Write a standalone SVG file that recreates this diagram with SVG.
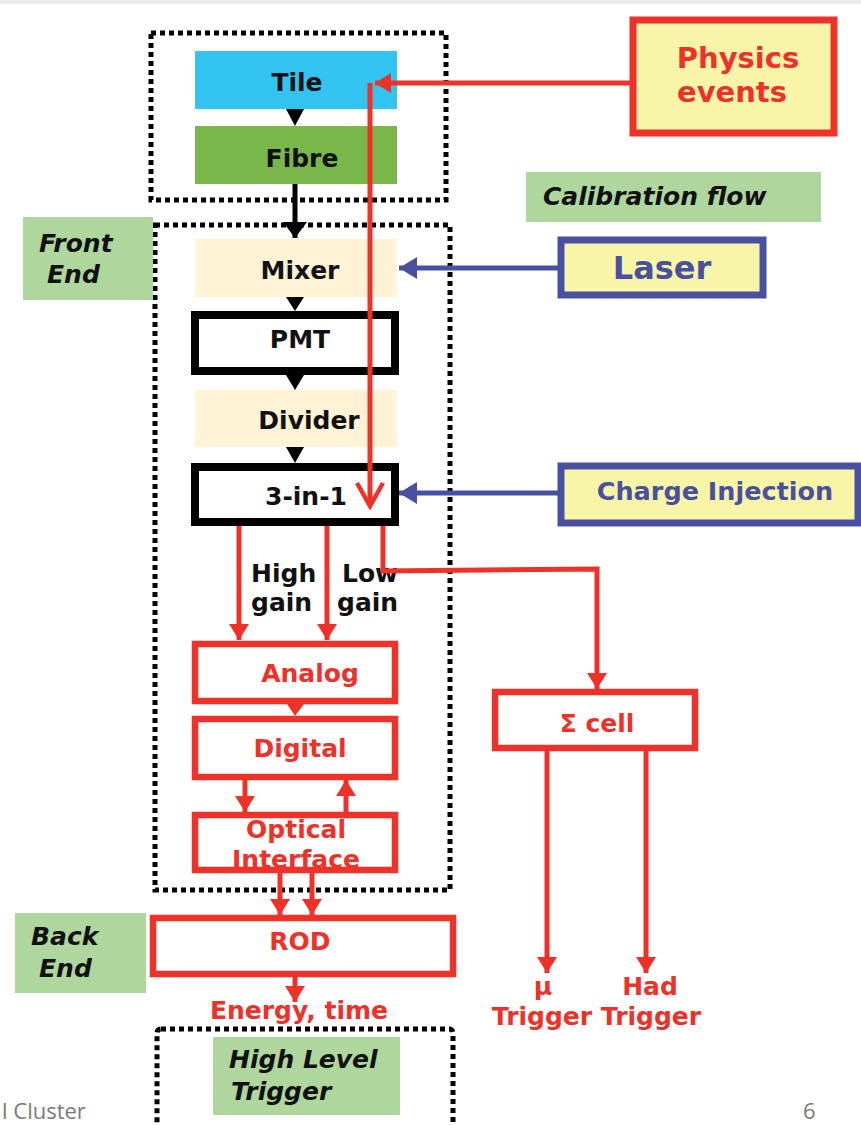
<svg xmlns="http://www.w3.org/2000/svg" width="861" height="1125" viewBox="0 0 861 1125">
<defs>
<style>
.t{font-family:"DejaVu Sans",Verdana,sans-serif;font-weight:bold;font-size:25px;fill:#111;}
.c{text-anchor:middle;}
.i{font-style:italic;}
.red{fill:#ee3129;}
.blue{fill:#4a50a0;}
.dot{fill:none;stroke:#000;stroke-width:5;stroke-dasharray:5 4;}
.lbl{fill:#aed69d;}
.rbox{fill:#fff;stroke:#ee3129;stroke-width:6.5;}
.kbox{fill:#fff;stroke:#000;stroke-width:8;}
.ybox{fill:#f9f5a8;}
.rl{stroke:#ee3129;stroke-width:5;fill:none;}
.bl{stroke:#4a50a0;stroke-width:5;fill:none;}
.kl{stroke:#000;stroke-width:5;fill:none;}
.rt{fill:#ee3129;}
.kt{fill:#000;}
.foot{font-family:"Open Sans","Liberation Sans",sans-serif;font-size:22px;fill:#7a7a7a;}
</style>
<marker id="aR" markerUnits="userSpaceOnUse" markerWidth="18" markerHeight="20" refX="16" refY="10" orient="auto"><path d="M0,0 L16,10 L0,20 z" fill="#ee3129"/></marker>
<marker id="aB" markerUnits="userSpaceOnUse" markerWidth="20" markerHeight="22" refX="18" refY="11" orient="auto"><path d="M0,0 L18,11 L0,22 z" fill="#4a50a0"/></marker>
<marker id="aK" markerUnits="userSpaceOnUse" markerWidth="18" markerHeight="24" refX="16" refY="12" orient="auto"><path d="M0,0 L16,12 L0,24 z" fill="#000"/></marker>
<marker id="aV" markerUnits="userSpaceOnUse" markerWidth="30" markerHeight="34" refX="25" refY="15" orient="auto"><path d="M2,2 L25,15 L2,28" fill="none" stroke="#ee3129" stroke-width="4.5"/></marker>
</defs>
<rect x="0" y="0" width="861" height="4" fill="#ececec"/>

<g id="detector-box"><rect class="dot" x="151" y="33" width="295" height="167"/></g>
<g id="frontend-box"><rect class="dot" x="155" y="225" width="295" height="665"/></g>
<g id="hlt-box"><rect class="dot" x="157" y="1029" width="296" height="120" rx="4"/></g>

<g id="tile"><rect x="195" y="51" width="202" height="58" fill="#33c3f0"/><text class="t c" x="297" y="91">Tile</text></g>
<g id="fibre"><rect x="195" y="126" width="202" height="58" fill="#79b74a"/><text class="t c" x="302" y="167">Fibre</text></g>

<g id="frontend-label"><rect class="lbl" x="23" y="217" width="130" height="83"/><text class="t i" x="39" y="252">Front</text><text class="t i" x="47" y="283">End</text></g>

<g id="mixer"><rect x="195" y="239" width="202" height="58" fill="#fff2d5"/><text class="t c" x="300" y="279">Mixer</text></g>
<g id="pmt"><rect class="kbox" x="195" y="315" width="200" height="56"/><text class="t c" x="300" y="348">PMT</text></g>
<g id="divider"><rect x="195" y="390" width="202" height="57" fill="#fff2d5"/><text class="t c" x="309" y="429">Divider</text></g>
<g id="three-in-one"><rect class="kbox" x="195" y="467" width="200" height="55"/><text class="t c" x="306" y="505">3-in-1</text></g>

<g id="physics-events"><rect class="ybox" x="633" y="20" width="201" height="113" stroke="#ee3129" stroke-width="7"/><text class="t c red" x="738" y="68" style="font-size:29px">Physics</text><text class="t c red" x="732" y="102" style="font-size:29px">events</text></g>
<g id="calibration-flow"><rect class="lbl" x="526" y="172" width="295" height="50"/><text class="t i" x="543" y="205">Calibration flow</text></g>
<g id="laser"><rect class="ybox" x="561" y="240" width="202" height="55" stroke="#4a50a0" stroke-width="7"/><text class="t c blue" x="662" y="279" style="font-size:32px">Laser</text></g>
<g id="charge-injection"><rect class="ybox" x="561" y="466" width="297" height="57" stroke="#4a50a0" stroke-width="7"/><text class="t c blue" x="715" y="500" style="font-size:25.5px">Charge Injection</text></g>

<g id="gain-labels">
<text class="t" x="251" y="582">High</text><text class="t" x="251" y="611">gain</text>
<text class="t" x="342" y="582">Low</text><text class="t" x="337" y="611">gain</text>
</g>

<g id="analog"><rect class="rbox" x="195" y="644" width="200" height="57"/><text class="t c red" x="310" y="682">Analog</text></g>
<g id="digital"><rect class="rbox" x="195" y="719" width="200" height="58"/><text class="t c red" x="300" y="757">Digital</text></g>
<g id="optical-interface"><rect x="195" y="815" width="200" height="55" fill="#fff"/><text class="t c red" x="296" y="838">Optical</text><text class="t c red" x="296" y="868">Interface</text><rect x="195" y="815" width="200" height="55" fill="none" stroke="#ee3129" stroke-width="6.5"/></g>

<g id="backend-label"><rect class="lbl" x="15" y="913" width="131" height="80"/><text class="t i" x="31" y="945">Back</text><text class="t i" x="39" y="977">End</text></g>
<g id="rod"><rect class="rbox" x="153" y="918" width="300" height="56" stroke-width="7"/><text class="t c red" x="300" y="950">ROD</text></g>
<g id="energy-label"><text class="t c red" x="299" y="1019">Energy, time</text></g>
<g id="hlt"><rect class="lbl" x="213" y="1037" width="187" height="78"/><text class="t i" x="229" y="1068">High Level</text><text class="t i" x="231" y="1100">Trigger</text></g>

<g id="sigma-cell"><rect class="rbox" x="495" y="692" width="200" height="56"/><text class="t c red" x="597" y="732">Σ cell</text></g>
<g id="mu-trigger"><text class="t c red" x="543" y="995">μ</text><text class="t c red" x="542" y="1025">Trigger</text></g>
<g id="had-trigger"><text class="t c red" x="650" y="995">Had</text><text class="t c red" x="651" y="1025">Trigger</text></g>

<g id="connectors">
<path class="bl" d="M558,268 L399,268" marker-end="url(#aB)"/>
<path class="bl" d="M558,493 L399,493" marker-end="url(#aB)"/>
<path class="kl" d="M295,184 L295,238" marker-end="url(#aK)"/>
<polygon class="kt" points="286,109 304,109 295,126"/>
<polygon class="kt" points="286,297 304,297 295,311"/>
<polygon class="kt" points="286,375 304,375 295,390"/>
<polygon class="kt" points="286,447 304,447 295,463"/>
<path class="rl" d="M239,526 L239,640" marker-end="url(#aR)"/>
<path class="rl" d="M327,526 L327,640" marker-end="url(#aR)"/>
<path class="rl" d="M383,526 L383,571 L597,569 L597,689" marker-end="url(#aR)"/>
<polygon class="rt" points="287,704 304,704 295,716"/>
<path class="rl" d="M245,780 L245,812" marker-end="url(#aR)"/>
<path class="rl" d="M346,812 L346,780" marker-end="url(#aR)"/>
<path class="rl" d="M280,873 L280,915" marker-end="url(#aR)"/>
<path class="rl" d="M312,873 L312,915" marker-end="url(#aR)"/>
<path class="rl" d="M295,977 L295,1002" marker-end="url(#aR)"/>
<path class="rl" d="M547,751 L547,973" marker-end="url(#aR)"/>
<path class="rl" d="M646,751 L646,973" marker-end="url(#aR)"/>
<path class="rl" d="M632,83 L375,83" marker-end="url(#aR)"/>
<path class="rl" d="M370,83 L370,506" stroke-width="3.5" marker-end="url(#aV)"/>
</g>

<text class="foot" x="2" y="1119">l Cluster</text>
<text class="foot" x="803" y="1119">6</text>
</svg>
